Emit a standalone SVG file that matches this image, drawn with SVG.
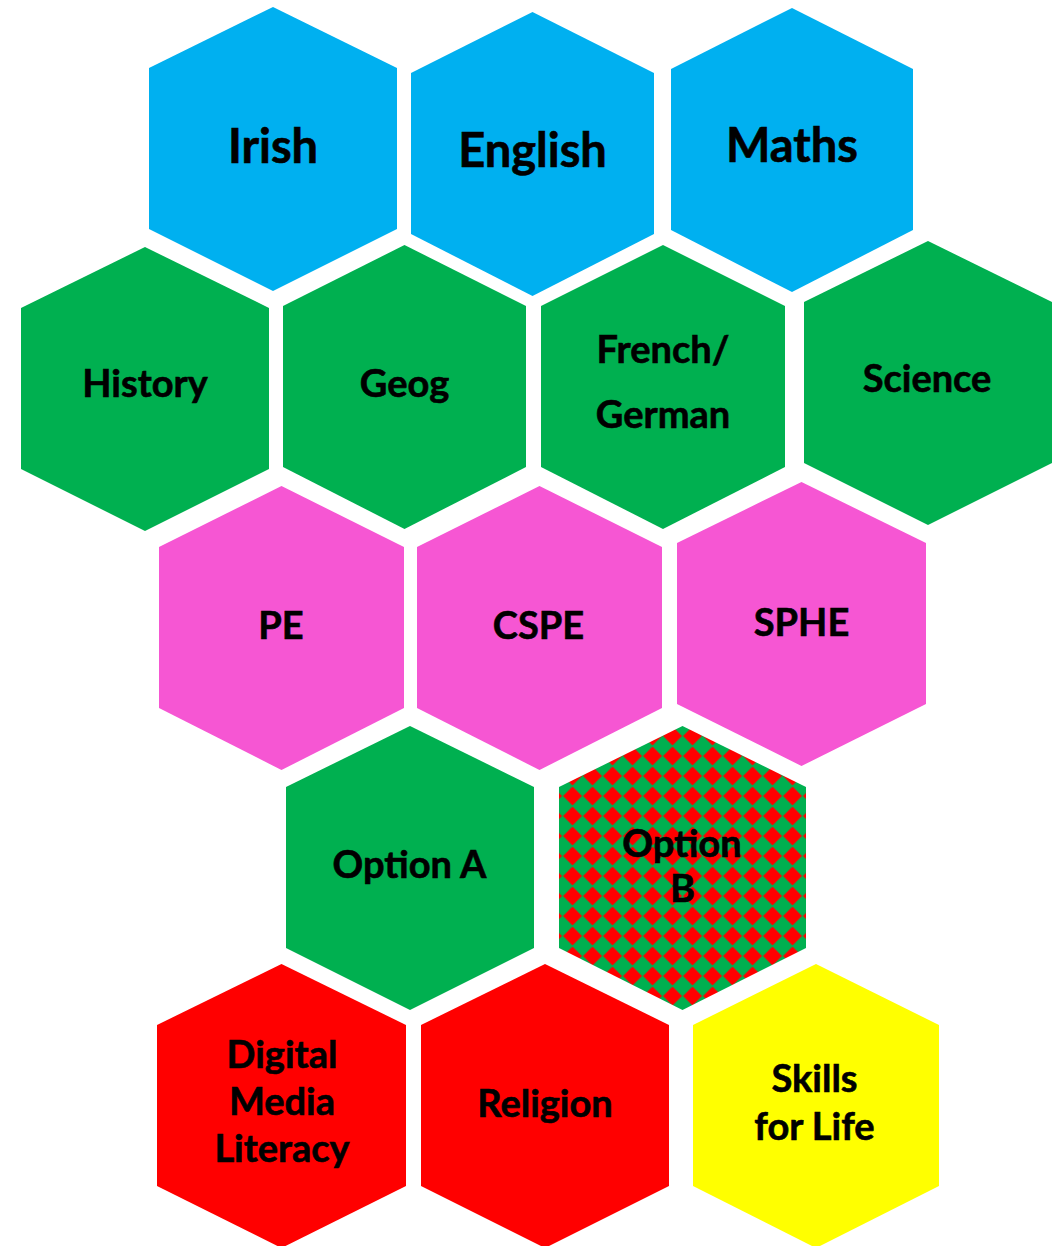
<svg xmlns="http://www.w3.org/2000/svg" width="1063" height="1246" viewBox="0 0 1063 1246">
<style>
.blue{fill:#00B0F0}
.green{fill:#00B050}
.pink{fill:#F656D3}
.red{fill:#FF0000}
.yellow{fill:#FFFF00}
.chk{fill:url(#checker)}
text{font-family:Lato,"Liberation Sans",sans-serif;font-weight:700;fill:#000;text-anchor:middle;stroke:#000;stroke-width:0.6px}
.big{font-size:47px}
.med{font-size:38px}
</style>
<defs>
<pattern id="checker" width="20" height="20" patternUnits="userSpaceOnUse" x="2.5" y="6">
<rect width="20" height="20" fill="#00B050"/>
<polygon points="10,0.5 19.5,10 10,19.5 0.5,10" fill="#FF0000"/>
</pattern>
</defs>
<rect width="1063" height="1246" fill="#FFFFFF"/>
<g id="connectors"/>
<g id="irish"><polygon class="blue" points="273,7 397,68 397,229 273,291 149,229 149,68"/><text class="big" x="273" y="163">Irish</text></g>
<g id="english"><polygon class="blue" points="532.5,12 654,73 654,234 532.5,296 411,234 411,73"/><text class="big" x="532.5" y="167">English</text></g>
<g id="maths"><polygon class="blue" points="792,8 913,69 913,230 792,292 671,230 671,69"/><text class="big" x="792" y="162">Maths</text></g>
<g id="history"><polygon class="green" points="145,247 269,308 269,469 145,531 21,469 21,308"/><text class="med" x="145" y="397">History</text></g>
<g id="geog"><polygon class="green" points="404.5,245 526,306 526,467 404.5,529 283,467 283,306"/><text class="med" x="404.5" y="397">Geog</text></g>
<g id="french-german"><polygon class="green" points="663,245 785,306 785,467 663,529 541,467 541,306"/><text class="med" x="663" y="363">French/</text><text class="med" x="663" y="428">German</text></g>
<g id="science"><polygon class="green" points="928,241 1052,302 1052,463 928,525 804,463 804,302"/><text class="med" x="927" y="392">Science</text></g>
<g id="pe"><polygon class="pink" points="281.5,486 404,547 404,708 281.5,770 159,708 159,547"/><text class="med" x="281" y="639">PE</text></g>
<g id="cspe"><polygon class="pink" points="539.5,486 662,547 662,708 539.5,770 417,708 417,547"/><text class="med" x="538.5" y="639">CSPE</text></g>
<g id="sphe"><polygon class="pink" points="801.5,482 926,543 926,704 801.5,766 677,704 677,543"/><text class="med" x="801.5" y="636">SPHE</text></g>
<g id="option-a"><polygon class="green" points="410,726 534,787 534,948 410,1010 286,948 286,787"/><text class="med" x="409.5" y="878">Option A</text></g>
<g id="option-b"><polygon class="chk" points="682.5,726 806,787 806,948 682.5,1010 559,948 559,787"/><text class="med" x="682" y="857">Option</text><text class="med" x="682.5" y="902">B</text></g>
<g id="digital-media-literacy"><polygon class="red" points="281.5,964 406,1025 406,1186 281.5,1248 157,1186 157,1025"/><text class="med" x="282" y="1068">Digital</text><text class="med" x="282" y="1115">Media</text><text class="med" x="282" y="1162">Literacy</text></g>
<g id="religion"><polygon class="red" points="545,964 669,1025 669,1186 545,1248 421,1186 421,1025"/><text class="med" x="545" y="1117">Religion</text></g>
<g id="skills-for-life"><polygon class="yellow" points="816,964 939,1025 939,1186 816,1248 693,1186 693,1025"/><text class="med" x="814.5" y="1092">Skills</text><text class="med" x="814.5" y="1140">for Life</text></g>
</svg>
